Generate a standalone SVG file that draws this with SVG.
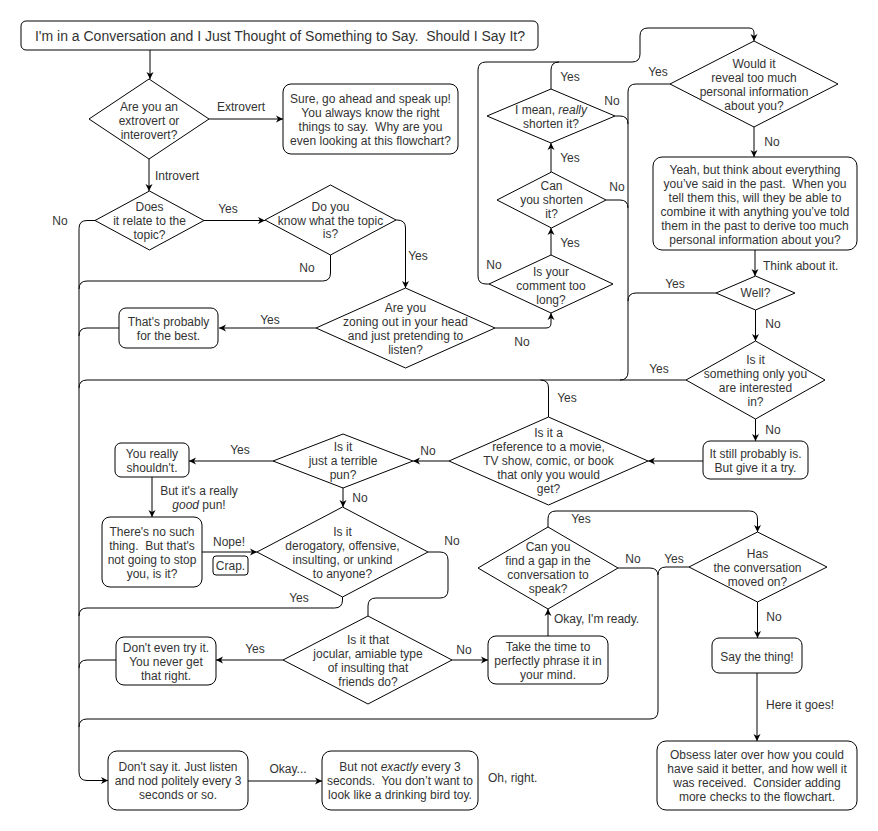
<svg xmlns="http://www.w3.org/2000/svg" width="878" height="831" viewBox="0 0 878 831">
<style>
.bg{fill:#fff}
.n rect,.n polygon{fill:#fff;stroke:#000;stroke-width:1}
text{font-family:"Liberation Sans",Arial,sans-serif;font-size:12px;fill:#333;text-anchor:middle;white-space:pre}
.l{text-anchor:start}
.ttl{font-size:14px}
.e path{fill:none;stroke:#000;stroke-width:1}
.a{marker-end:url(#arr)}
</style>
<defs>
<marker id="arr" markerWidth="8" markerHeight="8" refX="7" refY="4" orient="auto" markerUnits="userSpaceOnUse">
<path d="M0,0.5 L7,4 L0,7.5 L2,4 z" fill="#000"/>
</marker>
</defs>
<rect class="bg" width="878" height="831"/>

<g id="connectors" class="e">
<path class="a" d="M150,50 V79"/>
<path class="a" d="M209,119 H283"/>
<path class="a" d="M149,159 V191"/>
<path class="a" d="M204,220.5 H265"/>
<path class="a" d="M95,220.5 H87 Q79,220.5 79,228.5 V772 Q79,780.5 87,780.5 H108"/>
<path class="a" d="M396,220 H397 Q405.5,220 405.5,228 V288"/>
<path d="M330.5,255 V273 Q330.5,281 322.5,281 H87 Q79,281 79,289"/>
<path class="a" d="M316,328 H219"/>
<path d="M119,328 H87 Q79,328 79,336"/>
<path class="a" d="M495,328 H546 Q551,328 551,323 V313"/>
<path class="a" d="M489,284 H486 Q478,284 478,276 V70 Q478,62 486,62 H632 Q640,62 640,54 V36 Q640,28 648,28 H749 Q754,28 754,33 V41"/>
<path class="a" d="M551,255 V228"/>
<path class="a" d="M551,172 V143"/>
<path d="M551,89 V70 Q551,62 559,62"/>
<path d="M615,116 H620 Q628,116 628,124"/>
<path d="M606,200 H620 Q628,200 628,208"/>
<path d="M670,84 H636 Q628,84 628,92 V372 Q628,380 620,380"/>
<path d="M716,293 H636 Q628,293 628,301"/>
<path d="M686,380 H87 Q79,380 79,388"/>
<path d="M548.5,417 V388 Q548.5,380 540.5,380"/>
<path class="a" d="M754,127 V157"/>
<path class="a" d="M755,250 V276"/>
<path class="a" d="M755.5,310 V341"/>
<path class="a" d="M755.5,419 V441"/>
<path class="a" d="M703,461 H648"/>
<path class="a" d="M449,461 H413"/>
<path class="a" d="M273,461 H189"/>
<path class="a" d="M152,477 V517"/>
<path class="a" d="M202,552 H257"/>
<path class="a" d="M343,488 V507"/>
<path d="M342.5,597 V600 Q342.5,608 334.5,608 H87 Q79,608 79,616"/>
<path d="M428,552 H440 Q448,552 448,560 V590 Q448,598 440,598 H376 Q368,598 368,606 V616"/>
<path class="a" d="M283,660 H216"/>
<path d="M116,660 H87 Q79,660 79,668"/>
<path class="a" d="M452,660 H488"/>
<path class="a" d="M548,636 V609"/>
<path class="a" d="M548,527 V519 Q548,511 556,511 H749.5 Q757.5,511 757.5,519 V532"/>
<path d="M618,568 H650 Q658,568 658,576 V711 Q658,719 650,719 H87 Q79,719 79,727"/>
<path d="M689,567 H666 Q658,567 658,575"/>
<path class="a" d="M757.5,602 V638"/>
<path class="a" d="M757,673 V741"/>
<path class="a" d="M248,781 H322"/>
</g>

<g id="edge-labels">
<text x="241" y="111">Extrovert</text>
<text x="177" y="180">Introvert</text>
<text x="228" y="213">Yes</text>
<text x="60" y="225">No</text>
<text x="418" y="260">Yes</text>
<text x="307" y="272">No</text>
<text x="270" y="324">Yes</text>
<text x="522" y="346">No</text>
<text x="494" y="269">No</text>
<text x="570" y="247">Yes</text>
<text x="570" y="162">Yes</text>
<text x="570" y="81">Yes</text>
<text x="612" y="105">No</text>
<text x="617" y="191">No</text>
<text x="658" y="76">Yes</text>
<text x="772" y="146">No</text>
<text class="l" x="763" y="270">Think about it.</text>
<text x="675" y="288">Yes</text>
<text x="773" y="328">No</text>
<text x="659" y="373">Yes</text>
<text x="773" y="434">No</text>
<text x="567" y="402">Yes</text>
<text x="428" y="455">No</text>
<text x="240" y="454">Yes</text>
<text x="360" y="502">No</text>
<text x="199" y="495">But it's a really</text>
<text x="199" y="509"><tspan font-style="italic">good</tspan> pun!</text>
<text x="229" y="546">Nope!</text>
<text x="299" y="602">Yes</text>
<text x="452" y="545">No</text>
<text x="255" y="653">Yes</text>
<text x="464" y="654">No</text>
<text class="l" x="554" y="623">Okay, I'm ready.</text>
<text x="581" y="523">Yes</text>
<text x="633" y="563">No</text>
<text x="674" y="563">Yes</text>
<text x="774" y="621">No</text>
<text class="l" x="766" y="709">Here it goes!</text>
<text x="288" y="773">Okay...</text>
<text class="l" x="488" y="782">Oh, right.</text>
</g>

<g id="title" class="n">
<rect x="21" y="21" width="517" height="29" rx="5"/>
<text class="ttl" x="280" y="41">I'm in a Conversation and I Just Thought of Something to Say.  Should I Say It?</text>
</g>

<g id="extrovert-q" class="n">
<polygon points="149,79 209,119 149,159 89,119"/>
<text x="149" y="111">Are you an</text>
<text x="149" y="125">extrovert or</text>
<text x="149" y="139">interovert?</text>
</g>

<g id="sure" class="n">
<rect x="283" y="84" width="175" height="70" rx="8"/>
<text x="370.5" y="103">Sure, go ahead and speak up!</text>
<text x="370.5" y="117">You always know the right</text>
<text x="370.5" y="131">things to say.  Why are you</text>
<text x="370.5" y="145">even looking at this flowchart?</text>
</g>

<g id="relate-q" class="n">
<polygon points="149.5,191 204,220.5 149.5,250 95,220.5"/>
<text x="149.5" y="211">Does</text>
<text x="149.5" y="225">it relate to the</text>
<text x="149.5" y="239">topic?</text>
</g>

<g id="know-q" class="n">
<polygon points="330.5,185 396,220 330.5,255 265,220"/>
<text x="330.5" y="211">Do you</text>
<text x="330.5" y="225">know what the topic</text>
<text x="330.5" y="238">is?</text>
</g>

<g id="zoning-q" class="n">
<polygon points="405.5,288 495,328 405.5,368 316,328"/>
<text x="405.5" y="312">Are you</text>
<text x="405.5" y="326">zoning out in your head</text>
<text x="405.5" y="340">and just pretending to</text>
<text x="405.5" y="354">listen?</text>
</g>

<g id="best" class="n">
<rect x="119" y="308" width="99" height="40" rx="7"/>
<text x="168.5" y="326">That's probably</text>
<text x="168.5" y="340">for the best.</text>
</g>

<g id="long-q" class="n">
<polygon points="551,255 613,284 551,313 489,284"/>
<text x="551" y="276">Is your</text>
<text x="551" y="290">comment too</text>
<text x="551" y="304">long?</text>
</g>

<g id="shorten-q" class="n">
<polygon points="551.5,172 606,200 551.5,228 497,200"/>
<text x="551.5" y="190">Can</text>
<text x="551.5" y="204">you shorten</text>
<text x="551.5" y="218">it?</text>
</g>

<g id="really-q" class="n">
<polygon points="551,89 615,116 551,143 487,116"/>
<text x="551" y="114">I mean, <tspan font-style="italic">really</tspan></text>
<text x="551" y="128">shorten it?</text>
</g>

<g id="reveal-q" class="n">
<polygon points="754,41 838,84 754,127 670,84"/>
<text x="754" y="67.5">Would it</text>
<text x="754" y="81.5">reveal too much</text>
<text x="754" y="95.5">personal information</text>
<text x="754" y="109.5">about you?</text>
</g>

<g id="yeah" class="n">
<rect x="653" y="157" width="204" height="93" rx="9"/>
<text x="755" y="174">Yeah, but think about everything</text>
<text x="755" y="188">you’ve said in the past.  When you</text>
<text x="755" y="202">tell them this, will they be able to</text>
<text x="755" y="216">combine it with anything you’ve told</text>
<text x="755" y="230">them in the past to derive too much</text>
<text x="755" y="244">personal information about you?</text>
</g>

<g id="well-q" class="n">
<polygon points="755.5,276 795,293 755.5,310 716,293"/>
<text x="755.5" y="297">Well?</text>
</g>

<g id="interested-q" class="n">
<polygon points="755.5,341 825,380 755.5,419 686,380"/>
<text x="755.5" y="364">Is it</text>
<text x="755.5" y="378">something only you</text>
<text x="755.5" y="392">are interested</text>
<text x="755.5" y="406">in?</text>
</g>

<g id="still" class="n">
<rect x="703" y="441" width="105" height="38" rx="7"/>
<text x="755.5" y="458">It still probably is.</text>
<text x="755.5" y="472">But give it a try.</text>
</g>

<g id="reference-q" class="n">
<polygon points="548.5,417 648,461 548.5,505 449,461"/>
<text x="548.5" y="437">Is it a</text>
<text x="548.5" y="451">reference to a movie,</text>
<text x="548.5" y="465">TV show, comic, or book</text>
<text x="548.5" y="479">that only you would</text>
<text x="548.5" y="493">get?</text>
</g>

<g id="pun-q" class="n">
<polygon points="343,434 413,461 343,488 273,461"/>
<text x="343" y="451">Is it</text>
<text x="343" y="465">just a terrible</text>
<text x="343" y="479">pun?</text>
</g>

<g id="shouldnt" class="n">
<rect x="115" y="443" width="74" height="34" rx="6"/>
<text x="152" y="458">You really</text>
<text x="152" y="472">shouldn't.</text>
</g>

<g id="nosuch" class="n">
<rect x="102" y="517" width="100" height="70" rx="8"/>
<text x="152" y="536">There's no such</text>
<text x="152" y="550">thing.  But that's</text>
<text x="152" y="564">not going to stop</text>
<text x="152" y="578">you, is it?</text>
</g>

<g id="crap" class="n">
<rect x="213" y="556" width="35" height="19" rx="3"/>
<text x="230.5" y="570">Crap.</text>
</g>

<g id="derogatory-q" class="n">
<polygon points="342.5,507 428,552 342.5,597 257,552"/>
<text x="342.5" y="536">Is it</text>
<text x="342.5" y="550">derogatory, offensive,</text>
<text x="342.5" y="564">insulting, or unkind</text>
<text x="342.5" y="578">to anyone?</text>
</g>

<g id="jocular-q" class="n">
<polygon points="368,616 452,660 368,704 283,660"/>
<text x="368" y="644">Is it that</text>
<text x="368" y="658">jocular, amiable type</text>
<text x="368" y="672">of insulting that</text>
<text x="368" y="686">friends do?</text>
</g>

<g id="donteven" class="n">
<rect x="116" y="637" width="100" height="48" rx="8"/>
<text x="166" y="652">Don't even try it.</text>
<text x="166" y="666">You never get</text>
<text x="166" y="680">that right.</text>
</g>

<g id="taketime" class="n">
<rect x="488" y="636" width="120" height="48" rx="8"/>
<text x="548" y="651">Take the time to</text>
<text x="548" y="665">perfectly phrase it in</text>
<text x="548" y="679">your mind.</text>
</g>

<g id="gap-q" class="n">
<polygon points="548,527 618,568 548,609 478,568"/>
<text x="548" y="551">Can you</text>
<text x="548" y="565">find a gap in the</text>
<text x="548" y="579">conversation to</text>
<text x="548" y="593">speak?</text>
</g>

<g id="movedon-q" class="n">
<polygon points="757.5,532 827,567 757.5,602 689,567"/>
<text x="757.5" y="558">Has</text>
<text x="757.5" y="572">the conversation</text>
<text x="757.5" y="586">moved on?</text>
</g>

<g id="say" class="n">
<rect x="712" y="638" width="90" height="35" rx="7"/>
<text x="757" y="661">Say the thing!</text>
</g>

<g id="obsess" class="n">
<rect x="657" y="741" width="200" height="69" rx="9"/>
<text x="757" y="759">Obsess later over how you could</text>
<text x="757" y="773">have said it better, and how well it</text>
<text x="757" y="787">was received.  Consider adding</text>
<text x="757" y="801">more checks to the flowchart.</text>
</g>

<g id="dontsay" class="n">
<rect x="108" y="751" width="140" height="59" rx="9"/>
<text x="178" y="771">Don't say it. Just listen</text>
<text x="178" y="785">and nod politely every 3</text>
<text x="178" y="799">seconds or so.</text>
</g>

<g id="notexactly" class="n">
<rect x="322" y="751" width="156" height="59" rx="9"/>
<text x="400" y="771">But not <tspan font-style="italic">exactly</tspan> every 3</text>
<text x="400" y="785">seconds.  You don’t want to</text>
<text x="400" y="799">look like a drinking bird toy.</text>
</g>
</svg>
